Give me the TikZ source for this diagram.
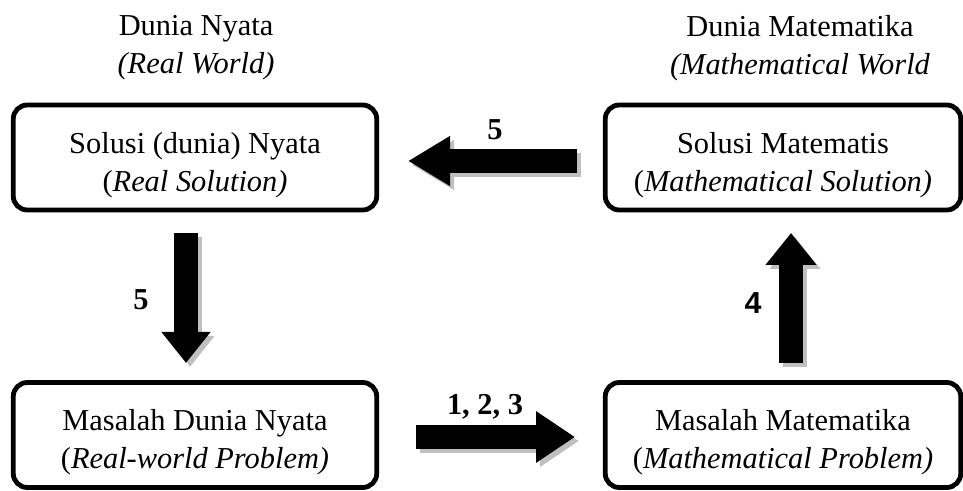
\documentclass[tikz,border=0pt]{standalone}
\usepackage{fontspec}
\setmainfont{Liberation Serif}
\newfontfamily\arialfont{Liberation Sans}
\usetikzlibrary{arrows.meta}
\definecolor{sShadow}{HTML}{BFBFBF}

\begin{document}
\begin{tikzpicture}[x=0.5pt,y=-0.5pt,>=latex]
		\tikzstyle{BOX} = [draw, line width=2.4pt, rounded corners=7pt, minimum height=52.5pt, align=center, text height=36.8pt, font=\fontsize{15.2}{19}\selectfont]
		\tikzstyle{realBox} = [BOX, minimum width=181.75pt]
		\tikzstyle{mathBox} = [BOX, minimum width=177.75pt]
		\tikzstyle{head} = [align=center, font=\fontsize{15.2}{19}\selectfont]
		\tikzstyle{num} = [font=\fontsize{15.2}{16}\selectfont\bfseries]
		\tikzset{fat/.style 2 args={line width=12pt, -{Triangle[length=#1,width=#2]}}}
		\tikzset{fatShadow/.style={draw=sShadow, transform canvas={xshift=2pt,yshift=-2pt}}}

		\useasboundingbox (0,0) rectangle (963,491);

		\node[head] (realWorld) at (196,48) {Dunia Nyata\\\textit{(Real World)}};
		\node[head] (mathWorld) at (800,48) {Dunia Matematika\\\textit{(Mathematical World}};

		\node[realBox] (realSol) at (195,157.5) {Solusi (dunia) Nyata\\(\textit{Real Solution)}};
		\node[mathBox] (mathSol) at (783,157.5) {Solusi Matematis\\(\textit{Mathematical Solution)}};
		\node[realBox] (realProb) at (195,435) {Masalah Dunia Nyata\\(\textit{Real-world Problem)}};
		\node[mathBox] (mathProb) at (783,435) {Masalah Matematika\\(\textit{Mathematical Problem)}};

		\coordinate (interpFrom) at (577,161);
		\coordinate (interpTo) at (408,161);
		\coordinate (validFrom) at (186,233);
		\coordinate (validTo) at (186,363);
		\coordinate (formFrom) at (416,437);
		\coordinate (formTo) at (575,437);
		\coordinate (solveFrom) at (791,363);
		\coordinate (solveTo) at (791,233);

		\draw[fat={21pt}{23.5pt}, fatShadow] (interpFrom) -- (interpTo);
		\draw[fat={21pt}{23.5pt}] (interpFrom) -- (interpTo);
		\draw[fat={15.5pt}{23.5pt}, fatShadow] (validFrom) -- (validTo);
		\draw[fat={15.5pt}{23.5pt}] (validFrom) -- (validTo);
		\draw[fat={19.5pt}{24.5pt}, fatShadow] (formFrom) -- (formTo);
		\draw[fat={19.5pt}{24.5pt}] (formFrom) -- (formTo);
		\draw[fat={16pt}{24.5pt}, fatShadow] (solveFrom) -- (solveTo);
		\draw[fat={16pt}{24.5pt}] (solveFrom) -- (solveTo);

		\node[num] (lblInterp) at (495,130) {5};
		\node[num] (lblValid) at (141,300) {5};
		\node[num] (lblForm) at (485,407) {1, 2, 3};
		\node[num, font=\fontsize{15.2}{16}\selectfont\arialfont\bfseries] (lblSolve) at (753,303) {4};
\end{tikzpicture}
\end{document}
